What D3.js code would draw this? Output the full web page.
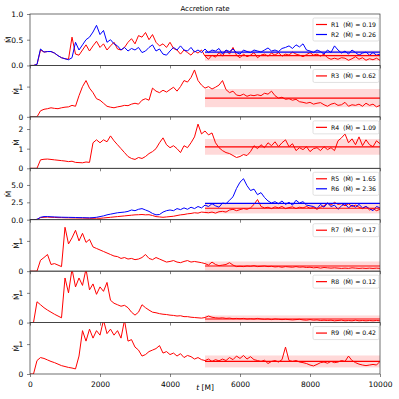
<!DOCTYPE html>
<meta charset="utf-8">
<script src="https://d3js.org/d3.v7.min.js"></script>
<style>
  body { margin: 0; background: #fff; }
  text { font-family: "DejaVu Sans", sans-serif; fill: #000; }
</style>
<div id="chart"></div>
<script>

// sampling times [M]
const times = d3.range(0, 10001, 100);

// accretion rate per run, every 100 M
const r1 = [0,0,0.02,0.3,0.26,0.27,0.27,0.24,0.19,0.15,
  0.13,0.12,0.55,0.22,0.2,0.3,0.4,0.28,0.38,0.47,
  0.35,0.42,0.3,0.38,0.45,0.32,0.3,0.35,0.45,0.52,
  0.42,0.58,0.55,0.64,0.5,0.6,0.45,0.38,0.42,0.35,
  0.45,0.33,0.3,0.22,0.3,0.25,0.2,0.28,0.24,0.3,
  0.18,0.12,0.2,0.16,0.25,0.18,0.3,0.22,0.35,0.2,
  0.15,0.22,0.17,0.2,0.25,0.15,0.2,0.22,0.18,0.24,
  0.2,0.25,0.18,0.22,0.2,0.26,0.22,0.2,0.17,0.21,
  0.25,0.2,0.22,0.18,0.22,0.15,0.12,0.14,0.12,0.15,
  0.14,0.1,0.13,0.17,0.12,0.15,0.1,0.13,0.11,0.14,
  0.1];
const r2 = [0,0,0.02,0.32,0.26,0.27,0.27,0.24,0.19,0.15,
  0.13,0.11,0.15,0.45,0.3,0.4,0.5,0.55,0.65,0.78,
  0.6,0.68,0.45,0.5,0.42,0.38,0.3,0.35,0.28,0.33,
  0.3,0.35,0.25,0.28,0.35,0.4,0.28,0.32,0.22,0.2,
  0.28,0.35,0.3,0.38,0.3,0.28,0.35,0.26,0.3,0.25,
  0.32,0.25,0.3,0.28,0.33,0.22,0.3,0.27,0.32,0.25,
  0.22,0.3,0.27,0.25,0.3,0.28,0.26,0.3,0.34,0.28,
  0.3,0.27,0.33,0.35,0.38,0.33,0.4,0.36,0.42,0.3,
  0.28,0.25,0.3,0.27,0.22,0.3,0.25,0.38,0.3,0.24,
  0.28,0.22,0.3,0.25,0.2,0.24,0.26,0.2,0.25,0.2,
  0.22];
const r3 = [0,0,0,0.2,0.25,0.27,0.3,0.28,0.27,0.3,
  0.32,0.33,0.38,0.35,0.7,1.0,1.2,0.95,0.8,0.6,
  0.55,0.45,0.35,0.32,0.3,0.33,0.35,0.38,0.37,0.42,
  0.45,0.42,0.55,0.6,0.55,0.95,0.85,0.8,0.88,0.82,
  0.9,0.98,0.85,1.0,1.2,1.15,1.3,1.55,1.2,1.05,
  0.95,1.0,0.92,0.98,1.05,1.2,0.9,0.8,0.85,0.72,
  0.7,0.75,0.68,0.72,0.7,0.73,0.7,0.78,0.75,0.85,
  0.7,0.62,0.65,0.58,0.6,0.55,0.58,0.5,0.48,0.45,
  0.48,0.42,0.45,0.47,0.4,0.35,0.42,0.45,0.38,0.4,
  0.48,0.35,0.4,0.38,0.42,0.35,0.45,0.38,0.42,0.33,
  0.38];
const r4 = [0,0,0,0.43,0.46,0.47,0.45,0.43,0.41,0.39,
  0.37,0.34,0.36,0.3,0.29,0.28,0.32,0.3,1.3,1.45,
  1.3,1.45,1.35,1.65,1.4,1.2,1.0,0.8,0.6,0.5,
  0.45,0.55,0.5,0.6,0.75,0.85,1.0,1.3,1.55,1.2,
  1.05,1.15,1.0,0.8,1.15,1.05,1.3,1.6,2.25,1.75,
  1.9,1.7,1.8,1.3,1.05,0.9,0.8,0.75,0.65,0.55,
  0.6,0.7,0.65,0.85,1.15,1.0,1.2,1.05,1.3,1.15,
  1.35,1.1,1.3,1.45,1.1,1.25,0.9,1.05,0.95,1.1,
  0.85,1.0,1.05,0.9,1.1,0.95,1.05,0.9,1.4,1.55,
  1.75,1.3,1.5,1.2,1.6,1.15,1.45,1.2,1.1,1.4,
  1.25];
const r5 = [0,0,0.05,0.3,0.35,0.38,0.35,0.33,0.3,0.3,
  0.28,0.27,0.26,0.25,0.25,0.23,0.22,0.2,0.2,0.22,
  0.2,0.25,0.3,0.35,0.4,0.45,0.5,0.55,0.6,0.65,
  0.7,0.72,0.75,0.7,0.72,0.6,0.45,0.4,0.35,0.4,
  0.45,0.5,0.6,0.7,0.75,0.85,0.9,1.0,0.95,1.1,
  1.05,1.0,1.1,0.95,1.15,1.2,1.1,1.4,1.5,1.3,
  1.45,1.6,1.5,1.7,2.2,2.9,1.9,1.7,1.8,1.6,
  1.85,1.7,1.9,1.6,1.75,1.85,1.6,1.8,1.7,1.9,
  1.65,1.75,1.5,1.8,2.0,2.4,2.1,2.5,2.2,2.3,
  2.0,2.3,1.9,2.1,1.8,1.6,1.9,1.4,1.6,1.3,
  1.5];
const r6 = [0,0,0.05,0.35,0.45,0.45,0.42,0.4,0.38,0.36,
  0.35,0.34,0.33,0.32,0.3,0.3,0.28,0.27,0.3,0.35,
  0.45,0.55,0.7,0.8,0.9,1.0,1.05,1.1,1.2,1.4,
  1.3,1.5,1.6,1.4,1.2,0.9,0.7,0.75,1.1,1.3,
  1.4,1.3,1.6,1.45,1.7,1.5,1.8,1.6,1.9,1.7,
  2.1,1.9,2.3,2.0,1.8,2.4,2.3,2.8,3.3,4.5,
  5.4,5.9,4.9,4.2,4.4,3.6,3.9,3.2,2.7,2.4,
  2.6,2.3,2.7,2.2,2.5,2.1,2.8,2.4,2.6,2.1,
  2.0,1.9,1.6,2.2,1.8,2.4,1.9,2.1,1.5,2.0,
  2.3,1.7,2.1,1.8,2.2,1.7,1.9,1.6,1.3,1.9,
  1.7];
const r7 = [0,0,0,0.36,0.45,0.55,0.22,0.25,0.2,0.15,
  1.45,0.9,1.1,1.35,1.0,1.25,0.95,1.05,0.8,0.75,
  0.7,0.65,0.6,0.55,0.5,0.48,0.42,0.45,0.4,0.42,
  0.38,0.4,0.45,0.55,0.42,0.38,0.45,0.4,0.35,0.3,
  0.32,0.35,0.3,0.28,0.32,0.35,0.3,0.32,0.3,0.28,
  0.25,0.2,0.3,0.22,0.18,0.2,0.22,0.28,0.2,0.15,
  0.16,0.15,0.17,0.16,0.18,0.15,0.16,0.17,0.15,0.16,
  0.14,0.15,0.13,0.15,0.14,0.13,0.15,0.13,0.14,0.12,
  0.13,0.11,0.12,0.1,0.12,0.11,0.1,0.11,0.1,0.09,
  0.1,0.09,0.11,0.1,0.09,0.1,0.09,0.1,0.09,0.1,
  0.09];
const r8 = [0,0,0.7,0.6,0.5,0.42,0.35,0.28,0.22,0.16,
  1.5,1.0,1.8,1.2,1.5,1.25,1.8,1.1,1.3,0.95,
  1.2,1.05,1.35,0.75,0.65,0.6,0.55,0.58,0.5,0.35,
  0.25,0.35,0.6,0.5,0.42,0.35,0.33,0.3,0.28,0.27,
  0.25,0.24,0.22,0.23,0.2,0.2,0.18,0.17,0.16,0.15,
  0.17,0.22,0.18,0.16,0.15,0.16,0.14,0.15,0.13,0.14,
  0.13,0.14,0.12,0.13,0.12,0.14,0.12,0.11,0.12,0.1,
  0.12,0.11,0.1,0.11,0.1,0.09,0.1,0.11,0.09,0.08,
  0.1,0.08,0.09,0.07,0.08,0.07,0.08,0.06,0.07,0.08,
  0.06,0.07,0.06,0.08,0.06,0.07,0.06,0.07,0.06,0.07,
  0.06];
const r9 = [0,0,0.45,0.55,0.52,0.47,0.42,0.38,0.33,0.28,
  0.25,0.22,0.2,0.17,0.6,1.45,1.1,1.5,1.2,1.45,
  1.3,1.8,1.35,1.5,1.3,1.45,1.2,1.8,1.1,1.15,
  0.9,0.8,0.6,0.65,0.75,0.8,0.85,0.95,0.7,0.75,
  0.65,0.7,0.6,0.68,0.55,0.62,0.58,0.5,0.55,0.48,
  0.45,0.5,0.42,0.48,0.44,0.5,0.45,0.55,0.48,0.6,
  0.52,0.62,0.5,0.58,0.48,0.45,0.42,0.46,0.35,0.42,
  0.45,0.4,0.48,0.9,0.45,0.42,0.45,0.4,0.38,0.35,
  0.3,0.27,0.32,0.38,0.4,0.36,0.42,0.38,0.4,0.45,
  0.42,0.6,0.45,0.38,0.33,0.3,0.28,0.3,0.32,0.3,
  0.42];

const names = ["R1", "R2", "R3", "R4", "R5", "R6", "R7", "R8", "R9"];
const series = [r1, r2, r3, r4, r5, r6, r7, r8, r9];
const colors = ["red", "blue", "red", "red", "red", "blue", "red", "red", "red"];
// time-averaged rate (t > 5000 M) and its spread, as printed / shaded
const means = [0.19, 0.26, 0.62, 1.09, 1.65, 2.36, 0.17, 0.12, 0.42];
const spreads = [0.1, null, 0.3, 0.4, 0.75, null, 0.15, 0.12, 0.2];
const meanStart = 5000;

// which runs go in which panel, and each panel's y axis
const panelSeries = [[0, 1], [2], [3], [4, 5], [6], [7], [8]];
const yMax = [1.0, 1.7, 2.62, 7.4, 1.7, 1.73, 1.72];
const yTicks = [[0, 0.5, 1.0], [0, 1], [0, 1, 2], [0, 2.5, 5.0], [0, 1], [0, 1], [0, 1]];
const yFormats = [".1f", "d", "d", ".1f", "d", "d", "d"];
const xTicks = [0, 2000, 4000, 6000, 8000, 10000];

const width = 399, height = 399;
const plotLeft = 30, plotRight = 380, plotTop = 14, plotBottom = 374;
const ph = (plotBottom - plotTop) / panelSeries.length;
const axisColor = "#333";

const svg = d3.select("#chart").append("svg")
    .attr("width", width)
    .attr("height", height);

const x = d3.scaleLinear().domain([0, 10000]).range([plotLeft, plotRight]);

svg.append("text")
    .attr("x", (plotLeft + plotRight) / 2)
    .attr("y", 10.5)
    .attr("text-anchor", "middle")
    .style("font-size", "7px")
    .text("Accretion rate");

const line = (y) => d3.line()
    .x((d, j) => x(times[j]))
    .y(d => y(d));

panelSeries.forEach((idx, p) => {
  const y0 = plotTop + p * ph;
  const y = d3.scaleLinear().domain([0, yMax[p]]).range([y0 + ph, y0]);
  const g = svg.append("g");

  g.append("clipPath").attr("id", "clip" + p)
    .append("rect")
      .attr("x", plotLeft).attr("y", y0)
      .attr("width", plotRight - plotLeft).attr("height", ph);
  const plot = g.append("g").attr("clip-path", `url(#clip${p})`);

  // shaded spread around the mean
  idx.forEach(i => {
    if (spreads[i] == null) return;
    const hi = means[i] + spreads[i], lo = Math.max(0, means[i] - spreads[i]);
    plot.append("rect")
      .attr("x", x(meanStart)).attr("width", x(10000) - x(meanStart))
      .attr("y", y(hi)).attr("height", y(lo) - y(hi))
      .attr("fill", colors[i]).attr("fill-opacity", 0.15);
  });

  idx.forEach(i => {
    plot.append("path")
      .datum(series[i])
      .attr("fill", "none")
      .attr("stroke", colors[i])
      .attr("stroke-width", 1)
      .attr("stroke-linejoin", "round")
      .attr("d", line(y));
  });

  idx.forEach(i => {
    plot.append("line")
      .attr("x1", x(meanStart)).attr("x2", x(10000))
      .attr("y1", y(means[i])).attr("y2", y(means[i]))
      .attr("stroke", colors[i])
      .attr("stroke-width", 1.2);
  });

  // axes
  const last = p === panelSeries.length - 1;
  const xa = g.append("g")
    .attr("transform", `translate(0,${y0 + ph})`)
    .call(d3.axisBottom(x).tickValues(xTicks).tickSize(3)
      .tickFormat(last ? d3.format("d") : () => ""));
  const ya = g.append("g")
    .attr("transform", `translate(${plotLeft},0)`)
    .call(d3.axisLeft(y).tickValues(yTicks[p]).tickSize(3)
      .tickFormat(d3.format(yFormats[p])));
  [xa, ya].forEach(a => {
    a.select(".domain").remove();
    a.selectAll(".tick line").attr("stroke", axisColor).attr("stroke-width", 0.6);
    a.selectAll(".tick text").style("font-size", "7.5px")
      .style("font-family", "DejaVu Sans").attr("fill", "#000");
  });
  xa.selectAll(".tick text").attr("dy", "0.9em");
  ya.selectAll(".tick text").attr("dx", "-0.1em");

  g.append("rect")
    .attr("x", plotLeft).attr("y", y0)
    .attr("width", plotRight - plotLeft).attr("height", ph)
    .attr("fill", "none")
    .attr("stroke", axisColor)
    .attr("stroke-width", 0.7);

  // y label sits just left of the widest tick label
  const labelX = yFormats[p] === "d" ? 19 : 11;
  g.append("text")
    .attr("transform", `translate(${labelX},${y0 + ph / 2}) rotate(-90)`)
    .attr("text-anchor", "middle")
    .style("font-size", "7.5px")
    .text("Ṁ");

  // legend
  const rowH = 10;
  const lg = g.append("g").attr("transform", `translate(313,${y0 + 4})`);
  lg.append("rect")
    .attr("width", 66).attr("height", idx.length * rowH + 3)
    .attr("rx", 1.5)
    .attr("fill", "#fff").attr("fill-opacity", 0.8)
    .attr("stroke", "#ccc").attr("stroke-width", 0.6);
  idx.forEach((i, k) => {
    const cy = 6.5 + k * rowH;
    lg.append("line")
      .attr("x1", 3).attr("x2", 14)
      .attr("y1", cy).attr("y2", cy)
      .attr("stroke", colors[i]).attr("stroke-width", 1.2);
    lg.append("text")
      .attr("x", 18).attr("y", cy).attr("dy", "0.35em")
      .style("font-size", "6.2px")
      .text(names[i]);
    lg.append("text")
      .attr("x", 30).attr("y", cy).attr("dy", "0.35em")
      .style("font-size", "6.2px")
      .text(`⟨Ṁ⟩ = ${means[i].toFixed(2)}`);
  });
});

svg.append("text")
  .attr("x", (plotLeft + plotRight) / 2)
  .attr("y", 390)
  .attr("text-anchor", "middle")
  .style("font-size", "7.5px")
  .call(t => {
    t.append("tspan").style("font-style", "italic").text("t");
    t.append("tspan").text(" [M]");
  });

</script>
